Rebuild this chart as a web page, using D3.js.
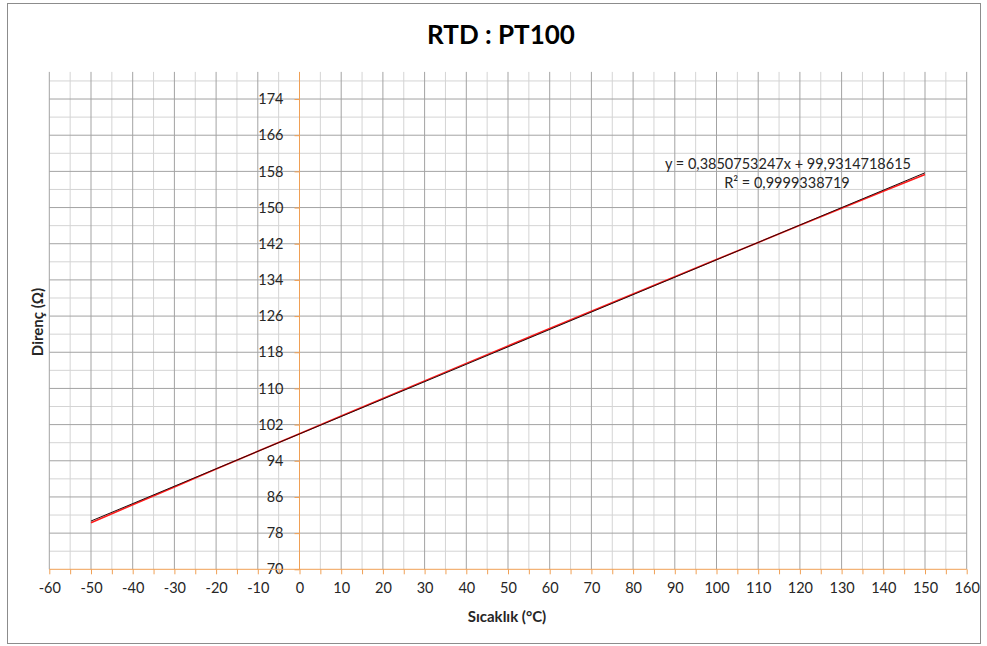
<!DOCTYPE html>
<html>
<head>
<meta charset="utf-8">
<script src="https://cdn.jsdelivr.net/npm/d3@7/dist/d3.min.js"></script>
<style>
  html, body { margin: 0; padding: 0; background: #fff; }
  svg { display: block; }
  text { font-family: Lato, "Liberation Sans", sans-serif; }
</style>
</head>
<body>
<svg id="chart" width="987" height="646"></svg>
<script>
// ---- data ----
const temperatures = [-50, -40, -30, -20, -10, 0, 10, 20, 30, 40, 50, 60, 70, 80, 90, 100, 110, 120, 130, 140, 150];
const resistances = [80.31, 84.27, 88.22, 92.16, 96.09, 100.00, 103.90, 107.79, 111.67, 115.54, 119.40, 123.24, 127.08, 130.90, 134.71, 138.51, 142.29, 146.07, 149.83, 153.58, 157.33];
const trendSlope = 0.3850753247;
const trendIntercept = 99.9314718615;
const trendRange = [-50, 150];
const xTicks = [-60, -50, -40, -30, -20, -10, 0, 10, 20, 30, 40, 50, 60, 70, 80, 90, 100, 110, 120, 130, 140, 150, 160];
const xMinorTicks = [-55, -45, -35, -25, -15, -5, 5, 15, 25, 35, 45, 55, 65, 75, 85, 95, 105, 115, 125, 135, 145, 155];
const yTicks = [70, 78, 86, 94, 102, 110, 118, 126, 134, 142, 150, 158, 166, 174];
const yMinorTicks = [74, 82, 90, 98, 106, 114, 122, 130, 138, 146, 154, 162, 170, 178];
const titleText = "RTD : PT100";
const xTitle = "Sıcaklık (°C)";
const yTitle = "Direnç (Ω)";
const eqText = "y = 0,3850753247x + 99,9314718615";
const r2Text = "R² = 0,9999338719";

// ---- layout ----
const svg = d3.select("#chart");
const x = d3.scaleLinear().domain([-60, 160]).range([49.3, 966.7]);
const y = d3.scaleLinear().domain([70, 180]).range([569.3, 71.9]);
const orange = "#f0a055";
const labelFont = 14.5;

// outer frame
svg.append("rect").attr("x", 7.5).attr("y", 3.5).attr("width", 973).attr("height", 640)
  .attr("fill", "#fff").attr("stroke", "#8c8c8c").attr("stroke-width", 1);

// title
svg.append("text").attr("x", 501).attr("y", 43.5).attr("text-anchor", "middle")
  .attr("font-size", 26).attr("font-weight", "bold").attr("fill", "#000").text(titleText);

const grid = svg.append("g");
// minor grid
grid.selectAll(".vminor").data(xMinorTicks).enter().append("line")
  .attr("x1", d => x(d)).attr("x2", d => x(d)).attr("y1", y(180)).attr("y2", y(70))
  .attr("stroke", "#d4d4d4").attr("stroke-width", 1);
grid.selectAll(".hminor").data(yMinorTicks).enter().append("line")
  .attr("x1", x(-60)).attr("x2", x(160)).attr("y1", d => y(d)).attr("y2", d => y(d))
  .attr("stroke", "#d4d4d4").attr("stroke-width", 1);
// major grid
grid.selectAll(".vmajor").data(xTicks.filter(d => d !== 0)).enter().append("line")
  .attr("x1", d => x(d)).attr("x2", d => x(d)).attr("y1", y(180)).attr("y2", y(70))
  .attr("stroke", "#a3a3a3").attr("stroke-width", 1);
grid.selectAll(".hmajor").data(yTicks.filter(d => d !== 70)).enter().append("line")
  .attr("x1", x(-60)).attr("x2", x(160)).attr("y1", d => y(d)).attr("y2", d => y(d))
  .attr("stroke", "#a3a3a3").attr("stroke-width", 1);

// y axis (orange at x=0)
const yAxis = d3.axisLeft(y).tickValues(yTicks).tickSize(5).tickPadding(11).tickFormat(d => String(d));
const gy = svg.append("g").attr("transform", `translate(${x(0)},0)`).call(yAxis);
gy.select(".domain").attr("stroke", orange).attr("d", `M0,${y(180)}V${y(70)}`);
gy.selectAll(".tick line").attr("stroke", orange);
gy.selectAll(".tick text").attr("font-size", labelFont).attr("fill", "#262626")
  .attr("font-family", "Lato, 'Liberation Sans', sans-serif");

// x axis (orange at y=70)
const allXTicks = xTicks.concat(xMinorTicks).sort((a, b) => a - b);
const xAxis = d3.axisBottom(x).tickValues(allXTicks).tickSize(5).tickPadding(8)
  .tickFormat(d => (xTicks.includes(d) ? String(d) : ""));
const gx = svg.append("g").attr("transform", `translate(0,${y(70)})`).call(xAxis);
gx.select(".domain").attr("stroke", orange).attr("d", `M${x(-60)},0H${x(160)}`);
gx.selectAll(".tick line").attr("stroke", orange);
gx.selectAll(".tick text").attr("font-size", labelFont).attr("fill", "#262626")
  .attr("font-family", "Lato, 'Liberation Sans', sans-serif");

// data line
const line = d3.line().x(d => x(d[0])).y(d => y(d[1]));
svg.append("path").datum(temperatures.map((t, i) => [t, resistances[i]]))
  .attr("d", line).attr("fill", "none").attr("stroke", "#ff1a1a").attr("stroke-width", 1.6);

// trend line
svg.append("path").datum(trendRange.map(t => [t, trendSlope * t + trendIntercept]))
  .attr("d", line).attr("fill", "none").attr("stroke", "#2a0a0a").attr("stroke-width", 1);

// equation
svg.append("text").attr("x", 788).attr("y", 168.5).attr("text-anchor", "middle")
  .attr("font-size", labelFont).attr("fill", "#262626").text(eqText);
svg.append("text").attr("x", 787).attr("y", 187.5).attr("text-anchor", "middle")
  .attr("font-size", labelFont).attr("fill", "#262626").text(r2Text);

// axis titles
svg.append("text").attr("x", 507).attr("y", 622).attr("text-anchor", "middle")
  .attr("font-size", 15).attr("font-weight", "bold").attr("fill", "#262626").text(xTitle);
svg.append("text").attr("transform", "translate(43,322) rotate(-90)").attr("text-anchor", "middle")
  .attr("font-size", 15).attr("font-weight", "bold").attr("fill", "#262626").text(yTitle);
</script>
</body>
</html>
